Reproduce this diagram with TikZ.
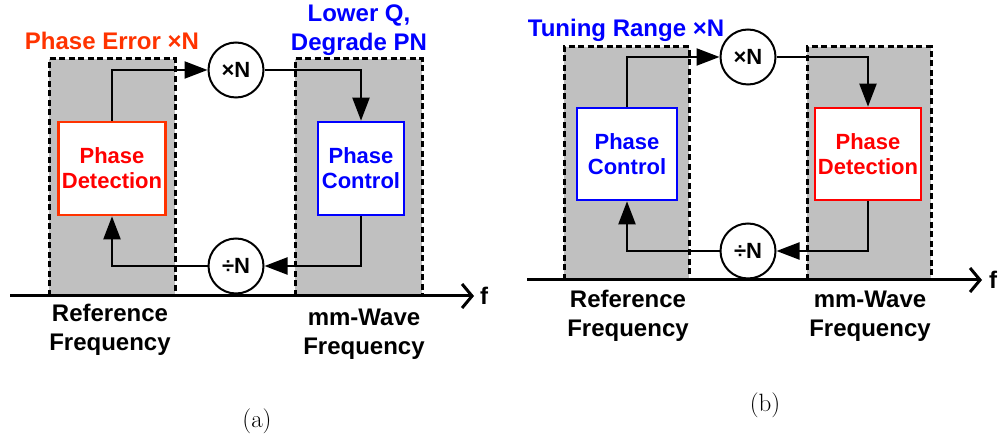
\documentclass[tikz,border=0pt]{standalone}
\usepackage{fontspec}
\newfontfamily\arialb[BoldFont={Liberation Sans Bold}]{Liberation Sans}
\newfontfamily\lmroman{Latin Modern Roman}
\usetikzlibrary{arrows.meta}
\definecolor{grayband}{HTML}{C0C0C0}
\definecolor{orred}{HTML}{FF3300}
\definecolor{pured}{HTML}{FF0000}
\definecolor{pblue}{HTML}{0000FF}
\begin{document}
\begin{tikzpicture}[x=1pt,y=-1pt,
  band/.style={fill=grayband,draw=black,line width=3pt,dash pattern=on 6pt off 3.5pt},
  blk/.style={draw,fill=white,line width=2.7pt,inner sep=0pt,align=center,
    font=\arialb\bfseries\fontsize{22}{25}\selectfont},
  opc/.style={circle,draw,fill=white,line width=2pt,inner sep=0pt,minimum size=55pt,
    font=\arialb\bfseries\fontsize{22}{25}\selectfont},
  wire/.style={line width=2.2pt,-{Triangle[length=23pt,width=17pt]}},
  axis/.style={line width=3pt,-{Straight Barb[length=10pt,width=24pt,line width=3pt]}},
  lbl/.style={align=center,inner sep=0pt,font=\arialb\bfseries\fontsize{24}{28}\selectfont},
  subcap/.style={inner sep=0pt,font=\lmroman\fontsize{25}{28}\selectfont}]
\useasboundingbox (0,0) rectangle (1003,443);

% ---------- panel (a) ----------
\path[band] (49,296) -- (49,59) -- (175,59) -- (175,296);
\path[band] (295,296) -- (295,59) -- (422,59) -- (422,296);
\draw[axis] (10,296) -- (474,296);
\node[lbl,anchor=base west] (fa) at (480,305) {f};

\node[blk,draw=orred,text=pured,minimum width=107pt,minimum height=93pt] (pda) at (112,168.5) {Phase\\Detection};
\node[blk,draw=pblue,text=pblue,minimum width=86pt,minimum height=93pt] (pca) at (361,168.5) {Phase\\Control};
\node[opc] (mula) at (236,70) {×N};
\node[opc] (diva) at (236,266) {÷N};

\draw[wire] (pda.north) |- (mula.west);
\draw[wire] (mula.east) -| (pca.north);
\draw[wire] (pca.south) |- (diva.east);
\draw[wire] (diva.west) -| (pda.south);

\node[lbl,text=orred,anchor=base] (pea) at (112,50) {Phase Error ×N};
\node[lbl,text=pblue,anchor=base] (lqa) at (359,22) {Lower Q,};
\node[lbl,text=pblue,anchor=base] (dpa) at (359,51) {Degrade PN};
\node[lbl,anchor=base] (rfa1) at (110,322) {Reference};
\node[lbl,anchor=base] (rfa2) at (110,350) {Frequency};
\node[lbl,anchor=base] (mwa1) at (364,326) {mm-Wave};
\node[lbl,anchor=base] (mwa2) at (364,354) {Frequency};
\node[subcap] (capa) at (257,421) {(a)};

% ---------- panel (b) ----------
\path[band] (564,280) -- (564,47) -- (689,47) -- (689,280);
\path[band] (807,280) -- (807,47) -- (931,47) -- (931,280);
\draw[axis] (527,280) -- (982,280);
\node[lbl,anchor=base west] (fb) at (989,289) {f};

\node[blk,draw=pblue,text=pblue,minimum width=100pt,minimum height=92pt] (pcb) at (627,154) {Phase\\Control};
\node[blk,draw=pured,text=pured,minimum width=106pt,minimum height=92pt] (pdb) at (868,154) {Phase\\Detection};
\node[opc] (mulb) at (748,57) {×N};
\node[opc] (divb) at (748,251) {÷N};

\draw[wire] (pcb.north) |- (mulb.west);
\draw[wire] (mulb.east) -| (pdb.north);
\draw[wire] (pdb.south) |- (divb.east);
\draw[wire] (divb.west) -| (pcb.south);

\node[lbl,text=pblue,anchor=base] (trb) at (626,37) {Tuning Range ×N};
\node[lbl,anchor=base] (rfb1) at (628,308) {Reference};
\node[lbl,anchor=base] (rfb2) at (628,336) {Frequency};
\node[lbl,anchor=base] (mwb1) at (870,308) {mm-Wave};
\node[lbl,anchor=base] (mwb2) at (870,336) {Frequency};
\node[subcap] (capb) at (765,405) {(b)};
\end{tikzpicture}
\end{document}
